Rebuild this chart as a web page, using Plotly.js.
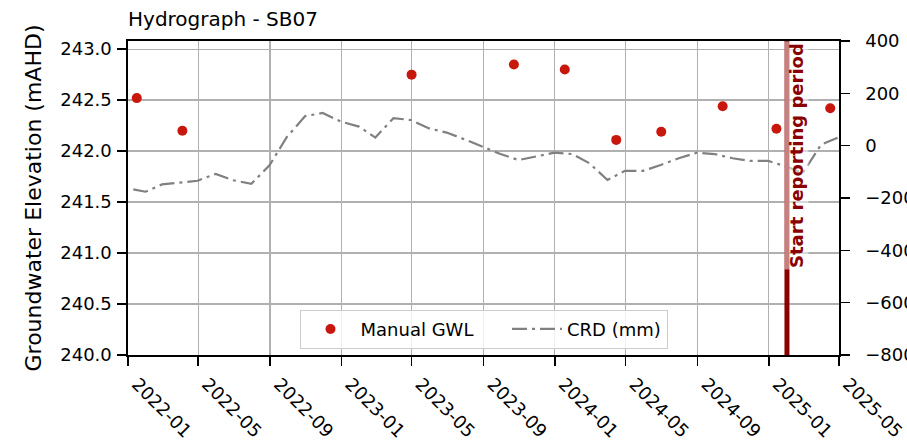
<!DOCTYPE html>
<html>
<head>
<meta charset="utf-8">
<script src="https://cdn.plot.ly/plotly-3.0.1.min.js"></script>
<style>html,body{margin:0;padding:0;background:#fff;}#chart{width:907px;height:444px;}</style>
</head>
<body>
<div id="chart"></div>
<script>
// Manual groundwater level readings (mAHD)
const gwlDates = ['2022-01-16','2022-04-04','2023-05-01','2023-10-23','2024-01-18','2024-04-15','2024-07-01','2024-10-14','2025-01-14','2025-04-16'];
const gwlValues = [242.52, 242.20, 242.75, 242.85, 242.80, 242.11, 242.19, 242.44, 242.22, 242.42];

// Cumulative rainfall departure (mm)
const crdDates = ['2022-01-10','2022-01-31','2022-02-28','2022-03-31','2022-04-30','2022-05-31','2022-06-30','2022-07-31','2022-08-31','2022-09-30','2022-10-31','2022-11-30','2022-12-31',
  '2023-01-31','2023-02-28','2023-03-31','2023-04-30','2023-05-31','2023-06-30','2023-07-31','2023-08-31','2023-09-30','2023-10-31','2023-11-30','2023-12-31',
  '2024-01-31','2024-02-29','2024-03-31','2024-04-30','2024-05-31','2024-06-30','2024-07-31','2024-08-31','2024-09-30','2024-10-31','2024-11-30','2024-12-31',
  '2025-01-31','2025-02-28','2025-03-31','2025-04-30'];
const crdValues = [-167,-176,-148,-141,-134,-108,-132,-146,-75,34,113,125,92,
  73,31,105,98,66,50,24,-6,-32,-55,-42,-27,
  -32,-67,-131,-96,-96,-74,-48,-27,-32,-48,-58,-58,
  -80,-105,3,32];

const xTickLabels = ['2022-01','2022-05','2022-09','2023-01','2023-05','2023-09','2024-01','2024-05','2024-09','2025-01','2025-05'];
const reportStart = '2025-02-01';
const reportLabel = 'Start reporting period';
const seriesNames = ['Manual GWL', 'CRD (mm)'];

const nbsp = '\u00a0';
const traces = [
  {x: gwlDates, y: gwlValues, type: 'scatter', mode: 'markers', name: seriesNames[0] + nbsp.repeat(5),
   marker: {color: '#c8170c', size: 10}, yaxis: 'y', cliponaxis: false},
  {x: crdDates, y: crdValues, type: 'scatter', mode: 'lines', name: seriesNames[1],
   line: {color: '#808080', width: 2.2, dash: '15px,5px,3px,5px'}, yaxis: 'y2'}
];

const axisCommon = {
  ticks: 'outside', ticklen: 9, tickwidth: 1.6, tickcolor: 'black',
  showline: true, linecolor: 'black', linewidth: 1.6,
  tickfont: {size: 18, color: 'black'}, zeroline: false, automargin: false
};

const layout = {
  width: 907, height: 444,
  margin: {l: 128, r: 68, t: 41, b: 89},
  paper_bgcolor: '#ffffff', plot_bgcolor: '#ffffff',
  font: {family: 'DejaVu Sans', size: 18, color: 'black'},
  title: {text: 'Hydrograph - SB07', x: 0, xref: 'paper', xanchor: 'left',
          y: 0.957, yref: 'container', yanchor: 'middle', font: {size: 20, color: 'black'}},
  showlegend: true,
  xaxis: Object.assign({}, axisCommon, {
    type: 'date', range: ['2022-01-01', '2025-05-01'],
    tickmode: 'array',
    tickvals: xTickLabels.map(t => t + '-01'), ticktext: xTickLabels,
    tickangle: 45, mirror: true, ticklabelshift: 9, ticklabelstandoff: 1,
    showgrid: true, gridcolor: '#b0b0b0', gridwidth: 1.3
  }),
  yaxis: Object.assign({}, axisCommon, {
    range: [240, 243.08], tick0: 240, dtick: 0.5, tickformat: '.1f',
    showgrid: true, gridcolor: '#b0b0b0', gridwidth: 1.3, ticklabelstandoff: 2,
    title: {text: 'Groundwater Elevation (mAHD)', font: {size: 22, color: 'black'}, standoff: 12}
  }),
  yaxis2: Object.assign({}, axisCommon, {
    overlaying: 'y', side: 'right', range: [-800, 400], tick0: -800, dtick: 200,
    showgrid: false, ticklabelstandoff: 12
  }),
  legend: {orientation: 'h', x: 0.5, xanchor: 'center', y: 0.02, yanchor: 'bottom',
           bgcolor: 'rgba(255,255,255,0.8)', bordercolor: '#cccccc', borderwidth: 1,
           itemwidth: 50,
           font: {size: 18, color: 'black'}},
  shapes: [{type: 'line', xref: 'x', yref: 'paper', x0: reportStart, x1: reportStart, y0: 0, y1: 1,
            line: {color: '#8b0000', width: 5}}],
  annotations: [{x: reportStart, xref: 'x', y: 1, yref: 'paper', xanchor: 'left', yanchor: 'top',
                 xshift: -3, textangle: -90, text: '<b>' + reportLabel + '</b>', showarrow: false,
                 font: {size: 18, color: '#8b0000'}, bgcolor: 'rgba(255,255,255,0.5)', borderpad: 1}]
};

Plotly.newPlot('chart', traces, layout, {displayModeBar: false, staticPlot: true});
</script>
</body>
</html>
